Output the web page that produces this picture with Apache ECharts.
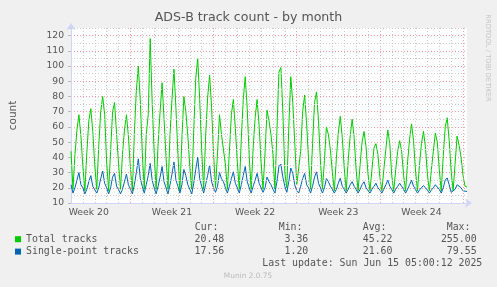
<!DOCTYPE html>
<html><head><meta charset="utf-8">
<script src="https://cdn.jsdelivr.net/npm/echarts@6/dist/echarts.min.js"></script>
<style>html,body{margin:0;padding:0;background:#F0F0F0}#c{width:497px;height:287px}</style>
</head><body><div id="c"></div>
<script>
// hours between samples (first sample at hour 0 = start of first full day shown)
const stepHours = 4;

const totalTracks = [
  44, 19, 42, 58, 68, 54,
  34, 18, 43, 64, 72, 57,
  35, 19, 47, 70, 80, 68,
  37, 18, 44, 70, 76, 56,
  36, 19, 42, 58, 68, 54,
  33, 18, 56, 84, 100, 77,
  43, 19, 55, 68, 118, 76,
  43, 19, 49, 70, 89, 65,
  40, 19, 55, 78, 98, 72,
  42, 18, 52, 80, 70, 54,
  34, 19, 58, 92, 105, 78,
  45, 19, 54, 79, 94, 73,
  42, 20, 43, 68, 55, 56,
  35, 19, 44, 68, 78, 59,
  37, 19, 52, 78, 93, 72,
  41, 19, 46, 66, 78, 61,
  37, 19, 43, 71, 64, 55,
  42, 19, 57, 96, 99, 70,
  30, 20, 60, 93, 76, 50,
  22, 21, 44, 70, 81, 62,
  38, 19, 49, 76, 83, 64,
  37, 19, 38, 60, 55, 45,
  30, 18, 39, 56, 67, 53,
  33, 18, 38, 54, 65, 53,
  32, 18, 35, 50, 57, 47,
  29, 18, 32, 46, 49, 42,
  27, 18, 32, 45, 58, 49,
  28, 18, 32, 44, 51, 44,
  28, 18, 37, 52, 62, 51,
  31, 18, 35, 49, 57, 47,
  29, 18, 32, 44, 56, 50,
  32, 18, 41, 60, 66, 51,
  31, 18, 36, 54, 48, 40,
  28, 21, 20.48
];

const singlePointTracks = [
  22, 16.5, 20, 25, 30, 22,
  20, 16, 19, 24, 28, 21,
  20, 16.5, 20, 26, 31, 23,
  20, 16, 20, 27, 29.5, 21,
  19, 16, 19, 24, 29, 22,
  19, 16, 22, 30, 39, 26,
  21, 16.5, 22, 28, 36, 25,
  20, 16, 21, 27, 34, 24,
  20, 16, 22, 29, 37, 25,
  21, 16.5, 22, 32, 28, 22,
  19, 16, 23, 32, 40, 26,
  21, 16.5, 22, 28, 35, 24,
  20, 17, 21, 30, 26, 24,
  20, 16.5, 21, 26, 30.5, 23,
  20, 16.5, 22, 28, 34, 24,
  20, 16.5, 21, 25, 29.5, 23,
  20, 17, 20, 27, 24, 22,
  19, 16.5, 24, 34, 35.5, 27,
  21, 17, 24, 33, 29.5, 22,
  18, 16.5, 21, 26, 29.5, 22,
  20, 16.5, 21, 27, 30.5, 23,
  20, 16.5, 20, 26, 24, 21,
  19, 16.5, 19, 23, 26.3, 21,
  19, 16.5, 19, 22, 24, 21,
  19, 16.5, 19, 22, 24, 20,
  19, 16.5, 19, 21, 23, 20,
  18.5, 16.5, 19, 22, 25, 21,
  19, 16.5, 19, 21, 23, 21,
  19, 16.5, 19, 22, 25, 21,
  19, 16.5, 18.5, 20, 21.5, 20,
  18.5, 16.5, 18.5, 20, 22, 21,
  19, 16.5, 20, 25, 26.5, 22,
  17, 16.5, 19, 22, 21, 20,
  18, 17, 17.56
];

const seriesNames = ['Total tracks', 'Single-point tracks'];
const weekLabels = ['Week 20', 'Week 21', 'Week 22', 'Week 23', 'Week 24'];
const weekLabelHours = [36, 204, 372, 540, 708];
const weekBoundaryHours = [120, 288, 456, 624, 792];
const minorYLines = [15, 25, 35, 45, 55, 65, 75, 85, 95, 105, 115, 125];
const statHeaders = ['Cur:', 'Min:', 'Avg:', 'Max:'];
const totalStats = ['20.48', '3.36', '45.22', '255.00'];
const singleStats = ['17.56', '1.20', '21.60', '79.55'];
const lastUpdate = 'Last update: Sun Jun 15 05:00:12 2025';

const GREEN = '#00CC00', BLUE = '#0066B3';
const FONT = '#555555';
const toPairs = arr => arr.map((v, i) => [i * stepHours, v]);

const chart = echarts.init(document.getElementById('c'), null, {renderer: 'canvas'});

const headerX = [194.7, 278.7, 362.7, 446.7];
const valueRightX = [224.3, 308.3, 392.5, 476.6];
const mono = '9.9px "DejaVu Sans Mono"';
const graphics = [];
statHeaders.forEach((h, i) => graphics.push({type: 'text', x: headerX[i], y: 227.7,
  style: {text: h, font: mono, fill: FONT, align: 'left', verticalAlign: 'middle'}}));
totalStats.forEach((s, i) => graphics.push({type: 'text', x: valueRightX[i], y: 239.3,
  style: {text: s, font: mono, fill: FONT, align: 'right', verticalAlign: 'middle'}}));
singleStats.forEach((s, i) => graphics.push({type: 'text', x: valueRightX[i], y: 251.7,
  style: {text: s, font: mono, fill: FONT, align: 'right', verticalAlign: 'middle'}}));
graphics.push({type: 'text', x: 482.3, y: 263.7,
  style: {text: lastUpdate, font: mono, fill: FONT, align: 'right', verticalAlign: 'middle'}});
graphics.push({type: 'text', x: 248, y: 276,
  style: {text: 'Munin 2.0.75', font: '7.4px "DejaVu Sans"', fill: '#BBBBBB', align: 'center', verticalAlign: 'middle'}});
graphics.push({type: 'text', x: 488, y: 58, rotation: -Math.PI / 2,
  style: {text: 'RRDTOOL / TOBI OETIKER', font: '6.8px "DejaVu Sans"', fill: '#C4C4C4', align: 'center', verticalAlign: 'middle'}});

chart.setOption({
  backgroundColor: '#F0F0F0',
  animation: false,
  title: {
    text: 'ADS-B track count - by month', left: 'center', top: 11, padding: 0,
    textStyle: {fontFamily: 'DejaVu Sans', fontSize: 12.6, fontWeight: 'normal', color: FONT}
  },
  legend: {
    orient: 'vertical', left: 15, top: 233, padding: 0, itemWidth: 6, itemHeight: 6, itemGap: 0,
    icon: 'rect', selectedMode: false,
    textStyle: {fontFamily: 'DejaVu Sans Mono', fontSize: 9.9, color: FONT, lineHeight: 12.4},
    data: seriesNames
  },
  grid: {left: 67, top: 28, width: 400, height: 175, show: true, backgroundColor: '#FFFFFF', borderWidth: 0, containLabel: false},
  xAxis: {
    type: 'value', min: 0, max: 800, interval: 24,
    axisLine: {show: true, onZero: false, lineStyle: {color: '#CFD6F8', width: 1},
      symbol: ['none', 'arrow'], symbolSize: [7, 7], symbolOffset: [0, 5]},
    axisTick: {show: false},
    splitLine: {show: true, showMinLine: false, showMaxLine: false,
      lineStyle: {color: '#CCCCCC', type: [1, 2], width: 1}},
    axisLabel: {
      customValues: weekLabelHours,
      formatter: v => { const k = weekLabelHours.indexOf(v); return k >= 0 ? weekLabels[k] : ''; },
      color: FONT, fontFamily: 'DejaVu Sans', fontSize: 9.3, margin: 5
    }
  },
  yAxis: {
    type: 'value', min: 10, max: 125, interval: 10,
    name: 'count', nameLocation: 'middle', nameGap: 52,
    nameTextStyle: {color: FONT, fontFamily: 'DejaVu Sans', fontSize: 10.5},
    axisLine: {show: true, onZero: false, lineStyle: {color: '#CFD6F8', width: 1},
      symbol: ['none', 'arrow'], symbolSize: [7, 7], symbolOffset: [0, 5]},
    axisTick: {show: true, length: 3, lineStyle: {color: '#BBBBBB'}},
    axisLabel: {formatter: v => v > 120 ? '' : String(v), color: FONT, fontFamily: 'DejaVu Sans', fontSize: 9.2, margin: 7},
    splitLine: {show: true, showMinLine: false, showMaxLine: false,
      lineStyle: {color: '#FF9C9C', type: [1, 2], width: 1}}
  },
  graphic: graphics,
  series: [
    {
      name: 'grid', type: 'line', data: [], z: 1, silent: true,
      markLine: {
        silent: true, symbol: 'none', label: {show: false}, animation: false,
        data: [
          ...weekBoundaryHours.map(h => ({xAxis: h, lineStyle: {color: '#FF9C9C', type: [1, 2], width: 1}})),
          ...minorYLines.map(v => ({yAxis: v, lineStyle: {color: '#CCCCCC', type: [1, 2], width: 1}}))
        ]
      }
    },
    {name: seriesNames[0], type: 'line', data: toPairs(totalTracks), showSymbol: false, symbol: 'none',
      lineStyle: {color: GREEN, width: 1}, itemStyle: {color: GREEN}, z: 3},
    {name: seriesNames[1], type: 'line', data: toPairs(singlePointTracks), showSymbol: false, symbol: 'none',
      lineStyle: {color: BLUE, width: 1}, itemStyle: {color: BLUE}, z: 4}
  ]
});
</script></body></html>
